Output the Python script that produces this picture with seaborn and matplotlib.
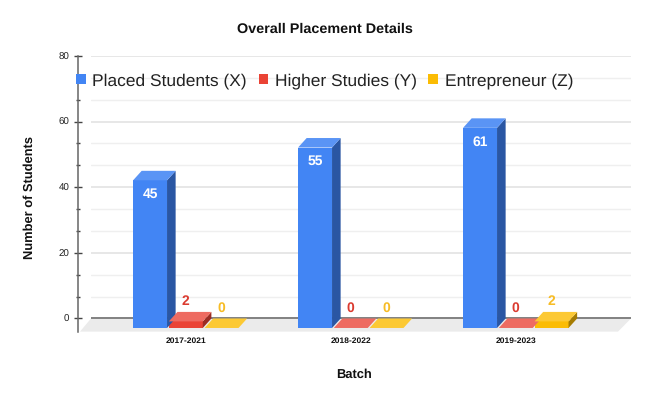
import pandas as pd
import seaborn as sns
import matplotlib.pyplot as plt
from matplotlib.patches import Polygon
from matplotlib.ticker import MultipleLocator
from matplotlib.transforms import Affine2D, IdentityTransform

batches = ['2017-2021', '2018-2022', '2019-2023']
placed = [45, 55, 61]
higher = [2, 0, 0]
entrepreneur = [0, 0, 2]

series_names = ['Placed Students (X)', 'Higher Studies (Y)', 'Entrepreneur (Z)']
front_colors = ['#4285F4', '#EA4335', '#FBBC04']
top_colors = ['#5A94F5', '#EE6B61', '#FCC934']
side_colors = ['#2A56A3', '#9C2C23', '#A67C02']
label_colors = ['white', '#DB3B30', '#F7BC25']

df = pd.DataFrame({
    'Batch': batches * 3,
    'Series': [s for s in series_names for _ in batches],
    'Students': placed + higher + entrepreneur,
})

sns.set_theme(style='white')
plt.rcParams['font.family'] = ['Liberation Sans', 'DejaVu Sans']
plt.rcParams['text.hinting'] = 'none'

W, H = 651, 401
fig = plt.figure(figsize=(W / 100, H / 100), dpi=100)
fig.patch.set_facecolor('white')

# back plane of the fake 3d box, in pixels
left, right, top, zero_y, bottom = 91, 631, 56, 318.5, 331.6
ax = fig.add_axes([left / W, 1 - bottom / H, (right - left) / W, (bottom - top) / H])

sns.barplot(data=df, x='Batch', y='Students', hue='Series', palette=front_colors,
            saturation=1, width=0.65, gap=0.05, linewidth=0, errorbar=None, ax=ax, zorder=4)

ax.set_ylim(-4, 80)
ax.set_xlim((left - 185.8) / 165, (right - 185.8) / 165)
ax.set_xlabel('')
ax.set_ylabel('')
ax.yaxis.set_major_locator(MultipleLocator(20))
ax.yaxis.set_minor_locator(MultipleLocator(20 / 3))
ax.set_axisbelow(True)
ax.yaxis.grid(True, which='major', color='#E0E0E0', lw=1.1)
ax.yaxis.grid(True, which='minor', color='#EFEFEF', lw=1.0)

for s in ['top', 'right', 'bottom']:
    ax.spines[s].set_visible(False)
ax.spines['left'].set_position(('outward', (left - 78) * 0.72))
ax.spines['left'].set_color('#666666')
ax.spines['left'].set_linewidth(1.1)

ax.tick_params(axis='y', which='major', direction='inout', length=6.3, width=1,
               color='#444444', left=True, labelsize=7, labelcolor='#222222', pad=3.2)
ax.tick_params(axis='y', which='minor', direction='inout', length=2.6, width=1,
               color='#444444', left=True)
ax.tick_params(axis='x', length=0, pad=4.3, labelsize=6.1, labelcolor='#111111')
for t in ax.get_xticklabels():
    t.set_fontweight('bold')

# floor and zero line
y0 = (bottom - zero_y) / (bottom - top)
ax.add_patch(Polygon([(0, y0), (1, y0), (1 - 13 / 540, 0), (-11 / 540, 0)],
                     transform=ax.transAxes, facecolor='#EBEBEB', edgecolor='none',
                     clip_on=False, zorder=1))
ax.axhline(0, color='#666666', lw=1.1, zorder=2)

# fake 3d: front faces slide down, tops and sides are worked out from each bar
dx, dy = 8.6, 9.5
to_px = ax.transData
down = Affine2D().translate(0, -dy)

for i, container in enumerate(ax.containers):
    for bar in container:
        bar.set_transform(ax.transData + down)
        bar.set_clip_on(False)
        bar.set_edgecolor('none')
        x0, x1 = bar.get_x(), bar.get_x() + bar.get_width()
        h = bar.get_height()
        (px0, py0), (px1, py1) = to_px.transform([(x0, 0), (x1, h)])
        py0 -= dy
        py1 -= dy
        top_face = [(px0, py1), (px1, py1), (px1 + dx, py1 + dy), (px0 + dx, py1 + dy)]
        side_face = [(px1, py0), (px1 + dx, py0 + dy), (px1 + dx, py1 + dy), (px1, py1)]
        fig.add_artist(Polygon(side_face, transform=IdentityTransform(), facecolor=side_colors[i],
                               edgecolor='none', zorder=5))
        fig.add_artist(Polygon(top_face, transform=IdentityTransform(), facecolor=top_colors[i],
                               edgecolor='none', zorder=5))
        xc = (x0 + x1) / 2
        if i == 0:
            offset = -(dy + 14)
        else:
            offset = 20 - dy
        ax.annotate(f'{h:.0f}', (xc, h), xytext=(0, offset * 0.72), textcoords='offset points',
                    ha='center', va='center', color=label_colors[i], fontsize=10,
                    fontweight='bold', zorder=6, annotation_clip=False)

handles, labels = ax.get_legend_handles_labels()
ax.get_legend().remove()
leg = fig.legend(handles, labels, loc='center left', bbox_to_anchor=(76 / W, 1 - 81 / H),
                 bbox_transform=fig.transFigure, ncols=3, fontsize=12.5, frameon=False,
                 borderpad=0, borderaxespad=0, handlelength=0.55, handleheight=0.55,
                 handletextpad=0.38, columnspacing=0.68, labelcolor='#222222')
leg.set_zorder(7)

fig.text(325 / W, 1 - 29.5 / H, 'Overall Placement Details', ha='center', va='center',
         fontsize=10.4, fontweight='bold', color='#111111')
fig.text(354.5 / W, 1 - 374.5 / H, 'Batch', ha='center', va='center',
         fontsize=9.3, fontweight='bold', color='#111111')
fig.text(29.5 / W, 1 - 197.5 / H, 'Number of Students', rotation=90, ha='center', va='center',
         fontsize=9.3, fontweight='bold', color='#111111')

fig.savefig('out.png', dpi=100)
